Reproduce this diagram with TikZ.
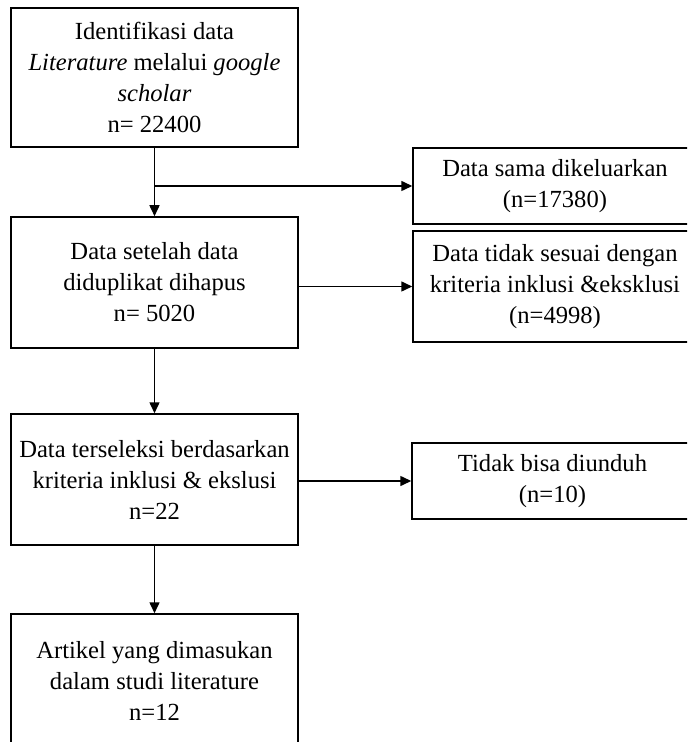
\documentclass[tikz,border=0pt]{standalone}
\usepackage{fontspec}
\setmainfont{Liberation Serif}
\usetikzlibrary{arrows.meta}

\tikzset{
  flowbox/.style={draw, line width=0.75pt, inner sep=0pt, align=center,
    font=\fontsize{12.3}{15.5}\selectfont},
  flowarrow/.style={line width=0.75pt, -{Triangle[length=5.5pt,width=5pt]}},
  flowline/.style={line width=0.75pt}
}

\begin{document}
\begin{tikzpicture}[x=0.5pt,y=-0.5pt]
\path[use as bounding box, clip] (0,0) rectangle (687,742);
% left column
\node[flowbox, minimum width=143.5pt, minimum height=69.5pt] (ident) at (154.5,77.5)
  {Identifikasi data\\ \textit{Literature} melalui \textit{google}\\ \textit{scholar}\\ n= 22400};
\node[flowbox, minimum width=143.5pt, minimum height=65.5pt] (after) at (154.5,282.5)
  {Data setelah data\\ diduplikat dihapus\\ n= 5020};
\node[flowbox, minimum width=143.5pt, minimum height=65.5pt] (selected) at (154.5,479.5)
  {Data terseleksi berdasarkan\\ kriteria inklusi \& ekslusi\\ n=22};
\node[flowbox, minimum width=143.5pt, minimum height=67pt] (final) at (154.5,681)
  {Artikel yang dimasukan\\ dalam studi literature\\ n=12};
% right column
\node[flowbox, minimum width=142pt, minimum height=38pt] (dup) at (555,186)
  {Data sama dikeluarkan\\ (n=17380)};
\node[flowbox, minimum width=142pt, minimum height=55.5pt] (notmatch) at (555,286.5)
  {Data tidak sesuai dengan\\ kriteria inklusi \&eksklusi\\ (n=4998)};
\node[flowbox, minimum width=140.5pt, minimum height=38pt] (nodl) at (552.5,481)
  {Tidak bisa diunduh\\ (n=10)};
% connectors
\coordinate (split) at (ident.south |- dup.west);
\draw[flowarrow] (ident) -- (after);
\draw[flowarrow] (split) -- (dup.west);
\draw[flowarrow] (after.east |- notmatch.west) -- (notmatch.west);
\draw[flowarrow] (after) -- (selected);
\draw[flowarrow] (selected.east |- nodl.west) -- (nodl.west);
\draw[flowarrow] (selected) -- (final);
\end{tikzpicture}
\end{document}
